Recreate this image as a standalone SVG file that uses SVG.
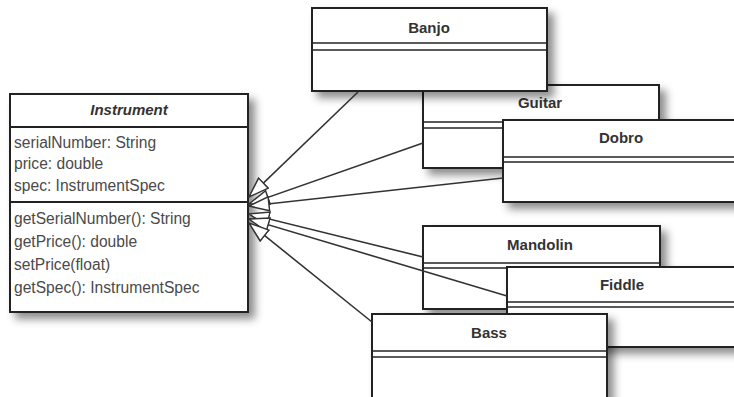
<svg xmlns="http://www.w3.org/2000/svg" width="734" height="397" viewBox="0 0 734 397">
<style>
  .box{fill:#fff;stroke:#222;stroke-width:2;filter:url(#sh)}
  .ln{stroke:#222;stroke-width:2;fill:none}
  .dl{stroke:#222;stroke-width:1.6;fill:none}
  .nm{font-family:"Liberation Sans",Arial,sans-serif;font-size:15px;font-weight:bold;fill:#333;text-anchor:middle}
  .it{font-family:"Liberation Sans",Arial,sans-serif;font-size:15.6px;fill:#4a4a4a}
  .ti{font-style:italic}
  .cn{stroke:#333;stroke-width:1.6;fill:none;marker-end:url(#tri)}
</style>
<defs>
  <filter id="sh" x="-10%" y="-10%" width="130%" height="140%">
    <feDropShadow dx="6" dy="6" stdDeviation="4" flood-color="#000" flood-opacity="0.45"/>
  </filter>
  <marker id="tri" viewBox="0 0 22 16" refX="21" refY="8" markerWidth="22" markerHeight="16" markerUnits="userSpaceOnUse" orient="auto">
    <path d="M1,1 L21,8 L1,15 Z" fill="#fff" stroke="#333" stroke-width="1.5"/>
  </marker>
</defs>
<rect width="734" height="397" fill="#fff"/>
<g id="instrument">
  <rect class="box" x="10" y="94" width="238" height="218"/>
  <line class="ln" x1="10" y1="127" x2="248" y2="127"/>
  <line class="ln" x1="10" y1="202" x2="248" y2="202"/>
  <text class="nm ti" x="129" y="115">Instrument</text>
  <text class="it" x="14" y="148">serialNumber: String</text>
  <text class="it" x="14" y="169">price: double</text>
  <text class="it" x="14" y="191">spec: InstrumentSpec</text>
  <text class="it" x="14" y="224">getSerialNumber(): String</text>
  <text class="it" x="14" y="247">getPrice(): double</text>
  <text class="it" x="14" y="270">setPrice(float)</text>
  <text class="it" x="14" y="293">getSpec(): InstrumentSpec</text>
</g>
<g id="guitar">
  <rect class="box" x="423" y="85" width="236" height="83"/>
  <line class="dl" x1="423" y1="122" x2="659" y2="122"/>
  <line class="dl" x1="423" y1="128" x2="659" y2="128"/>
  <text class="nm" x="540" y="108">Guitar</text>
</g>
<g id="banjo">
  <rect class="box" x="312" y="8" width="235" height="83"/>
  <line class="dl" x1="312" y1="43" x2="547" y2="43"/>
  <line class="dl" x1="312" y1="50" x2="547" y2="50"/>
  <text class="nm" x="429" y="33">Banjo</text>
</g>
<g id="dobro">
  <rect class="box" x="503" y="120" width="236" height="82"/>
  <line class="dl" x1="503" y1="157" x2="739" y2="157"/>
  <line class="dl" x1="503" y1="162" x2="739" y2="162"/>
  <text class="nm" x="621" y="143">Dobro</text>
</g>
<g id="mandolin">
  <rect class="box" x="423" y="226" width="237" height="83"/>
  <line class="dl" x1="423" y1="263" x2="660" y2="263"/>
  <line class="dl" x1="423" y1="268" x2="660" y2="268"/>
  <text class="nm" x="540" y="250">Mandolin</text>
</g>
<g id="fiddle">
  <rect class="box" x="507" y="267" width="236" height="80"/>
  <line class="dl" x1="507" y1="302" x2="743" y2="302"/>
  <line class="dl" x1="507" y1="307" x2="743" y2="307"/>
  <text class="nm" x="622" y="290">Fiddle</text>
</g>
<g id="bass">
  <rect class="box" x="372" y="314" width="235" height="90"/>
  <line class="dl" x1="372" y1="351" x2="607" y2="351"/>
  <line class="dl" x1="372" y1="357" x2="607" y2="357"/>
  <text class="nm" x="489" y="338">Bass</text>
</g>
<g id="connectors">
  <path class="cn" d="M358,92 L249,197"/>
  <path class="cn" d="M423,143 L249,204"/>
  <path class="cn" d="M503,178 L249,206"/>
  <path class="cn" d="M423,257 L249,214"/>
  <path class="cn" d="M507,296 L249,219"/>
  <path class="cn" d="M372,322 L249,223"/>
</g>
</svg>
